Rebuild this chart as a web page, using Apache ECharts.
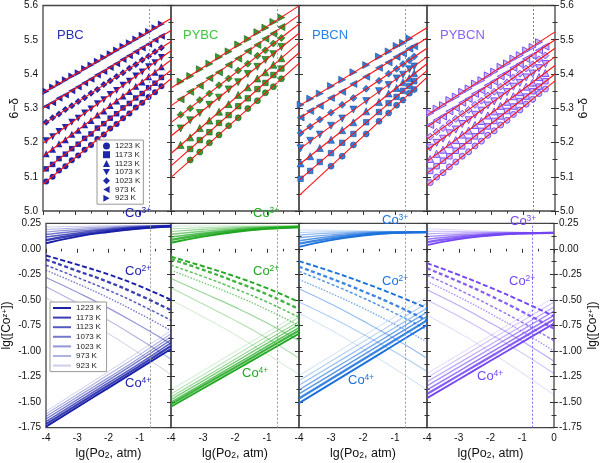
<!DOCTYPE html>
<html><head><meta charset="utf-8">
<script src="https://cdn.jsdelivr.net/npm/echarts@6/dist/echarts.min.js"></script>
<style>html,body{margin:0;padding:0;background:#fff}#c{width:600px;height:463px}</style>
</head><body><div id="c"></div>
<script>
// ---------------- data ----------------
const temps = ['1223 K','1173 K','1123 K','1073 K','1023 K','973 K','923 K'];
const panels = ['PBC','PYBC','PBCN','PYBCN'];
const airLg = -0.68;               // lg(0.21) reference line
const xTicks = [-4,-3,-2,-1,0];
const yTopTicks = [5.0,5.1,5.2,5.3,5.4,5.5,5.6];
const yBotTicks = [-1.75,-1.5,-1.25,-1,-0.75,-0.5,-0.25,0,0.25];
const fitX = [-4, 0];
const curveX = [-4,-3,-2,-1,0];

// top row: measured 6-delta (rows: 1223 K ... 923 K)
const mkX_PBC = [-3.9,-3.7,-3.5,-3.3,-3.1,-2.9,-2.7,-2.5,-2.3,-2.1,-1.9,-1.7,-1.5,-1.3,-1.1,-0.9,-0.7,-0.5,-0.3];
const mkY_PBC = [
 [5.086,5.100,5.118,5.131,5.148,5.162,5.179,5.193,5.210,5.223,5.241,5.254,5.271,5.285,5.302,5.316,5.333,5.347,5.364],
 [5.123,5.136,5.153,5.166,5.182,5.195,5.212,5.225,5.242,5.255,5.271,5.284,5.301,5.314,5.330,5.343,5.360,5.373,5.390],
 [5.167,5.180,5.196,5.208,5.224,5.236,5.252,5.264,5.280,5.292,5.308,5.321,5.336,5.349,5.364,5.377,5.392,5.405,5.421],
 [5.205,5.217,5.232,5.244,5.259,5.271,5.286,5.298,5.313,5.325,5.340,5.352,5.367,5.379,5.394,5.406,5.421,5.433,5.448],
 [5.259,5.272,5.283,5.296,5.307,5.320,5.331,5.344,5.355,5.369,5.380,5.393,5.404,5.417,5.428,5.441,5.452,5.465,5.477],
 [5.306,5.316,5.329,5.339,5.351,5.362,5.374,5.385,5.397,5.407,5.419,5.430,5.442,5.453,5.465,5.476,5.487,5.499,5.510],
 [5.350,5.362,5.372,5.383,5.394,5.404,5.416,5.426,5.437,5.448,5.459,5.470,5.481,5.491,5.502,5.513,5.524,5.535,5.546]
];
const mkX_PYBC = [-3.7,-3.4,-3.1,-2.8,-2.5,-2.2,-1.9,-1.6,-1.3,-1.05,-0.8,-0.55];
const mkY_PYBC = [
 [null,5.149,5.172,5.199,5.222,5.249,5.272,5.299,5.322,5.345,5.363,5.386],
 [null,5.181,5.207,5.230,5.257,5.280,5.306,5.329,5.356,5.374,5.397,5.416],
 [5.193,5.215,5.242,5.264,5.290,5.312,5.339,5.361,5.387,5.405,5.427,5.446],
 [5.241,5.265,5.286,5.310,5.331,5.355,5.376,5.400,5.421,5.441,5.458,5.479],
 [5.281,5.300,5.324,5.343,5.367,5.387,5.410,5.430,5.453,5.469,5.489,5.505],
 [5.326,5.348,5.366,5.388,5.405,5.427,5.445,5.467,5.485,5.503,5.518,5.537],
 [5.378,5.394,5.414,5.430,5.450,5.466,5.486,5.502,5.522,5.535,5.552,5.565]
];
const mkX_PBCN = [-3.95,-3.65,-3.35,-3.0,-2.65,-2.3,-1.9,-1.5,-1.2,-0.95,-0.75,-0.55,-0.4];
const mkY_PBCN = [
 [null,null,null,5.131,5.160,5.193,5.225,5.262,5.286,5.309,5.324,5.344,5.355],
 [5.094,5.117,5.143,5.169,5.199,5.225,5.259,5.289,5.315,5.333,5.351,5.365,5.379],
 [5.139,5.160,5.184,5.208,5.236,5.259,5.291,5.318,5.343,5.359,5.376,5.388,5.402],
 [5.183,5.205,5.223,5.249,5.270,5.296,5.321,5.350,5.368,5.387,5.398,5.414,5.422],
 [5.228,5.246,5.267,5.287,5.310,5.330,5.357,5.380,5.401,5.415,5.429,5.440,5.451],
 [5.273,5.292,5.307,5.330,5.348,5.371,5.392,5.418,5.434,5.450,5.460,5.474,5.481],
 [5.310,5.328,5.343,5.365,5.383,5.405,5.426,5.451,5.466,5.482,5.491,5.504,null]
];
const mkX_PYBCN = [-3.9,-3.7,-3.5,-3.3,-3.1,-2.9,-2.7,-2.5,-2.3,-2.1,-1.9,-1.7,-1.5,-1.3,-1.1,-0.9,-0.7,-0.5,-0.3];
const mkY_PYBCN = [
 [5.083,5.099,5.112,5.129,5.143,5.160,5.173,5.190,5.204,5.221,5.234,5.251,5.265,5.282,5.295,5.312,5.326,5.343,5.356],
 [5.117,5.131,5.147,5.160,5.176,5.189,5.205,5.218,5.234,5.247,5.263,5.276,5.292,5.305,5.321,5.334,5.350,5.363,5.379],
 [5.152,5.167,5.179,5.195,5.207,5.223,5.235,5.251,5.263,5.279,5.291,5.307,5.319,5.335,5.347,5.363,5.375,5.391,5.403],
 [5.185,5.199,5.211,5.227,5.238,5.254,5.265,5.281,5.293,5.308,5.320,5.335,5.347,5.363,5.374,5.390,5.401,5.417,5.429],
 [5.217,5.231,5.242,5.257,5.269,5.284,5.295,5.310,5.322,5.337,5.348,5.363,5.375,5.390,5.401,5.416,5.428,5.443,5.454],
 [5.251,5.265,5.276,5.291,5.301,5.316,5.327,5.342,5.352,5.367,5.378,5.393,5.403,5.418,5.429,5.444,5.454,5.469,5.480],
 [5.286,5.299,5.309,5.324,5.334,5.348,5.358,5.372,5.382,5.396,5.407,5.421,5.431,5.445,5.455,5.469,5.479,5.493,null]
];

// fitted lines: value at x=-4 and x=0
const fit_PBC   = [[5.078,5.386],[5.115,5.411],[5.160,5.441],[5.198,5.468],[5.253,5.495],[5.300,5.527],[5.345,5.562]];
const fit_PYBC  = [[5.098,5.431],[5.132,5.462],[5.168,5.491],[5.219,5.519],[5.258,5.546],[5.307,5.572],[5.359,5.599]];
const fit_PBCN  = [[5.045,5.390],[5.090,5.410],[5.135,5.430],[5.180,5.450],[5.225,5.475],[5.270,5.505],[5.307,5.535]];
const fit_PYBCN = [[5.075,5.380],[5.110,5.400],[5.145,5.425],[5.178,5.450],[5.210,5.475],[5.245,5.500],[5.280,5.523]];

// bottom row: lg([Co z+]) at curveX (rows: 1223 K ... 923 K)
const co3_PBC = [[0.055,0.12,0.165,0.198,0.218],[0.085,0.138,0.176,0.204,0.221],[0.115,0.156,0.187,0.210,0.224],[0.140,0.172,0.197,0.215,0.227],[0.165,0.188,0.206,0.220,0.229],[0.190,0.204,0.216,0.225,0.231],[0.213,0.220,0.226,0.230,0.233]];
const co2_PBC = [[-0.065,-0.155,-0.25,-0.365,-0.50],[-0.105,-0.215,-0.325,-0.455,-0.60],[-0.16,-0.28,-0.405,-0.545,-0.70],[-0.21,-0.34,-0.48,-0.635,-0.80],[-0.28,-0.425,-0.58,-0.75,-0.93],[-0.37,-0.53,-0.70,-0.885,-1.08],[-0.48,-0.65,-0.83,-1.025,-1.23]];
const co4_PBC = [[-1.74,-1.55,-1.36,-1.17,-0.98],[-1.715,-1.525,-1.335,-1.145,-0.95],[-1.69,-1.50,-1.31,-1.12,-0.92],[-1.665,-1.475,-1.285,-1.09,-0.89],[-1.64,-1.45,-1.26,-1.065,-0.86],[-1.615,-1.425,-1.23,-1.035,-0.83],[-1.59,-1.395,-1.20,-1.00,-0.80]];

const co3_PYBC = [[0.06,0.12,0.165,0.195,0.212],[0.088,0.138,0.175,0.200,0.215],[0.116,0.155,0.185,0.205,0.218],[0.143,0.172,0.195,0.210,0.220],[0.170,0.19,0.205,0.215,0.222],[0.197,0.207,0.215,0.220,0.224],[0.222,0.224,0.225,0.225,0.226]];
const co2_PYBC = [[-0.077,-0.17,-0.27,-0.385,-0.52],[-0.10,-0.205,-0.32,-0.445,-0.59],[-0.16,-0.27,-0.39,-0.52,-0.67],[-0.21,-0.33,-0.455,-0.595,-0.75],[-0.29,-0.43,-0.57,-0.725,-0.90],[-0.38,-0.54,-0.70,-0.875,-1.07],[-0.50,-0.665,-0.84,-1.03,-1.23]];
const co4_PYBC = [[-1.545,-1.366,-1.188,-1.009,-0.83],[-1.52,-1.34,-1.16,-0.98,-0.80],[-1.50,-1.318,-1.135,-0.953,-0.77],[-1.475,-1.291,-1.108,-0.924,-0.74],[-1.45,-1.265,-1.08,-0.895,-0.71],[-1.42,-1.233,-1.045,-0.858,-0.67],[-1.38,-1.193,-1.005,-0.818,-0.63]];

const co3_PBCN = [[0.02,0.085,0.13,0.155,0.163],[0.05,0.103,0.14,0.158,0.164],[0.08,0.12,0.148,0.161,0.165],[0.108,0.137,0.156,0.164,0.166],[0.135,0.153,0.163,0.166,0.166],[0.16,0.168,0.17,0.168,0.166],[0.185,0.182,0.177,0.171,0.166]];
const co2_PBCN = [[-0.12,-0.22,-0.33,-0.45,-0.58],[-0.175,-0.29,-0.415,-0.55,-0.70],[-0.22,-0.345,-0.48,-0.63,-0.79],[-0.30,-0.435,-0.58,-0.74,-0.91],[-0.39,-0.54,-0.705,-0.88,-1.07],[-0.52,-0.67,-0.835,-1.01,-1.20],[-0.63,-0.795,-0.98,-1.175,-1.38]];
const co4_PBCN = [[-1.51,-1.319,-1.128,-0.936,-0.745],[-1.465,-1.274,-1.083,-0.891,-0.70],[-1.42,-1.23,-1.04,-0.85,-0.66],[-1.38,-1.19,-1.00,-0.81,-0.62],[-1.335,-1.146,-0.958,-0.769,-0.58],[-1.29,-1.10,-0.91,-0.72,-0.53],[-1.24,-1.048,-0.855,-0.663,-0.47]];

const co3_PYBCN = [[0.037,0.095,0.13,0.15,0.157],[0.065,0.11,0.137,0.152,0.157],[0.093,0.125,0.144,0.154,0.157],[0.12,0.14,0.151,0.156,0.157],[0.147,0.155,0.158,0.158,0.157],[0.173,0.17,0.165,0.16,0.157],[0.198,0.185,0.172,0.163,0.157]];
const co2_PYBCN = [[-0.14,-0.255,-0.38,-0.515,-0.66],[-0.19,-0.32,-0.46,-0.615,-0.78],[-0.256,-0.40,-0.555,-0.72,-0.90],[-0.32,-0.47,-0.635,-0.81,-1.00],[-0.40,-0.555,-0.725,-0.905,-1.10],[-0.50,-0.66,-0.835,-1.02,-1.22],[-0.65,-0.82,-1.01,-1.215,-1.43]];
const co4_PYBCN = [[-1.46,-1.278,-1.095,-0.913,-0.73],[-1.42,-1.238,-1.055,-0.873,-0.69],[-1.38,-1.198,-1.015,-0.833,-0.65],[-1.34,-1.158,-0.975,-0.793,-0.61],[-1.30,-1.118,-0.935,-0.753,-0.57],[-1.26,-1.075,-0.89,-0.705,-0.52],[-1.22,-1.034,-0.848,-0.661,-0.475]];

// ---------------- styling ----------------
const mkX = [mkX_PBC, mkX_PYBC, mkX_PBCN, mkX_PYBCN];
const mkY = [mkY_PBC, mkY_PYBC, mkY_PBCN, mkY_PYBCN];
const fits = [fit_PBC, fit_PYBC, fit_PBCN, fit_PYBCN];
const co3 = [co3_PBC, co3_PYBC, co3_PBCN, co3_PYBCN];
const co2 = [co2_PBC, co2_PYBC, co2_PBCN, co2_PYBCN];
const co4 = [co4_PBC, co4_PYBC, co4_PBCN, co4_PYBCN];

const lineColor = ['#1a1fa8','#22a822','#1c72dc','#7447f2'];
const titleColor = ['#2a2fb0','#3fc93f','#2a82e6','#8a62f5'];
const mkFill = ['#1f27a8','#2f9f2f','#2f7fdd','#c9b9ff'];
const mkBorder = ['#1f27a8','#145a14','#1d4c9a','#7a52f2'];
const syms = ['circle','rect','triangle','path://M0,0 L10,0 L5,9 Z','diamond','path://M9,0 L9,10 L0,5 Z','path://M0,0 L0,10 L9,5 Z'];
const symSize = [6,5.5,7,7,7,7,7];
const opac = [1,0.86,0.74,0.6,0.47,0.35,0.22];
const widths = [1.9,2.3,1.5,1.4,1.2,1.1,1.0];
const co2Type = [[5,2.5],[4,2.5],[3,2],[1.5,1.5],'solid','solid','solid'];

const colLeft = [43,171,299,427];
const colW = 128;
const topT = 5.5, topH = 205.5, botT = 223.3, botH = 204.4;
const FONT = 'Liberation Sans, Arial, sans-serif';

const grid = [], xAxis = [], yAxis = [], series = [];
for (let r = 0; r < 2; r++) for (let c = 0; c < 4; c++) {
  grid.push({left: colLeft[c], width: colW, top: r ? botT : topT, height: r ? botH : topH,
    show: true, borderColor: '#444', borderWidth: 1.3, backgroundColor: 'transparent'});
}
for (let i = 0; i < 8; i++) {
  const r = i < 4 ? 0 : 1, c = i % 4;
  xAxis.push({gridIndex: i, type: 'value', min: xTicks[0], max: xTicks[xTicks.length-1], interval: 1,
    axisLine: {show: false}, splitLine: {show: false},
    axisTick: {show: true, length: 4, lineStyle: {color: '#333'}},
    minorTick: {show: true, splitNumber: 2, length: 2.5, lineStyle: {color: '#333'}},
    axisLabel: {show: r === 1, fontSize: 10, color: '#111', margin: 6, fontFamily: FONT,
      formatter: v => (v === 0 && c < 3) ? '' : String(v)},
    name: r === 1 ? '{a|lg(Po}{b|2}{a|, atm)}' : '', nameLocation: 'middle', nameGap: 19,
    nameTextStyle: {rich: {a: {fontSize: 12.5, color: '#111', fontFamily: FONT}, b: {fontSize: 8.5, color: '#111', verticalAlign: 'bottom', fontFamily: FONT}}}
  });
}
function yAx(i, side) {
  const r = i < 4 ? 0 : 1, c = i % 4;
  const showLab = (side === 'left' && c === 0) || (side === 'right' && c === 3);
  const t = r ? yBotTicks : yTopTicks;
  return {gridIndex: i, type: 'value', position: side, min: t[0], max: t[t.length-1],
    interval: r ? 0.25 : 0.1,
    axisLine: {show: false}, splitLine: {show: false},
    axisTick: {show: true, length: 4, lineStyle: {color: '#333'}},
    minorTick: {show: true, splitNumber: 2, length: 2.5, lineStyle: {color: '#333'}},
    axisLabel: {show: showLab, fontSize: 10, color: '#111', margin: 5, fontFamily: FONT,
      formatter: v => r ? v.toFixed(2) : v.toFixed(1)},
    name: showLab ? (r ? '{a|lg([Co}{s|z+}{a|])}' : '{a|6−δ}') : '',
    nameLocation: 'middle', nameRotate: 90, nameGap: r ? 33 : 21,
    nameTextStyle: {rich: {a: {fontSize: 12, color: '#111', fontFamily: FONT}, s: {fontSize: 8, color: '#111', verticalAlign: 'top', fontFamily: FONT}}}
  };
}
for (let i = 0; i < 8; i++) yAxis.push(yAx(i, 'left'));
for (let i = 0; i < 8; i++) yAxis.push(yAx(i, 'right'));

const vline = (p) => ({silent: true, symbol: 'none', label: {show: false},
  lineStyle: {type: [2, 2], color: p === 3 ? '#6f6fff' : '#9a9a9a', width: 1},
  data: [{xAxis: airLg}]});

for (let p = 0; p < 4; p++) {
  for (let t = 0; t < 7; t++) {
    series.push({name: temps[t], type: 'scatter', xAxisIndex: p, yAxisIndex: p,
      symbol: syms[t], symbolSize: symSize[t], z: 2,
      itemStyle: {color: mkFill[p], borderColor: mkBorder[p], borderWidth: p === 0 ? 0 : (p === 3 ? 1 : 0.6), opacity: 1},
      data: mkX[p].map((x, k) => [x, mkY[p][t][k]]).filter(d => d[1] !== null)});
  }
  for (let t = 0; t < 7; t++) {
    const s = {name: 'fit', type: 'line', xAxisIndex: p, yAxisIndex: p, symbol: 'none', z: 3, silent: true,
      lineStyle: {color: '#ff1010', width: 1.1}, data: fitX.map((x, k) => [x, fits[p][t][k]])};
    if (t === 0) s.markLine = vline(p);
    series.push(s);
  }
  const groups = [co3[p], co2[p], co4[p]];
  groups.forEach((g, gi) => {
    for (let t = 0; t < 7; t++) {
      const s = {name: temps[t] + ' ', type: 'line', xAxisIndex: p + 4, yAxisIndex: p + 4, symbol: 'none',
        smooth: true, silent: true, z: 2,
        itemStyle: {color: lineColor[p], opacity: opac[t]},
        lineStyle: {color: lineColor[p], width: widths[t], opacity: opac[t], type: gi === 1 ? co2Type[t] : 'solid'},
        data: curveX.map((x, k) => [x, g[t][k]])};
      if (gi === 0 && t === 0) s.markLine = vline(p);
      series.push(s);
    }
  });
}

const titles = panels.map((n, p) => ({text: n, left: [52,178,307,435][p], top: 24,
  textStyle: {fontSize: 13, fontWeight: 'normal', color: titleColor[p], fontFamily: FONT}}));

const coLab = [
  [[125,206],[125,264],[125,376]],
  [[253,206],[253,264],[242,366]],
  [[382,213],[382,274],[348,373]],
  [[510,214],[509,274],[477,369]]
];
const ions = ['3+','2+','4+'];
const graphic = [];
for (let p = 0; p < 4; p++) for (let k = 0; k < 3; k++) {
  graphic.push({type: 'text', left: coLab[p][k][0], top: coLab[p][k][1], z: 100,
    style: {text: '{a|Co}{s|' + ions[k] + '}', rich: {
      a: {fontSize: 13, fill: lineColor[p], fontFamily: FONT, lineHeight: 15},
      s: {fontSize: 8.5, fill: lineColor[p], fontFamily: FONT, verticalAlign: 'top', lineHeight: 15}}}});
}

const chart = echarts.init(document.getElementById('c'), null, {renderer: 'canvas'});
chart.setOption({
  animation: false,
  textStyle: {fontFamily: FONT},
  title: titles,
  grid, xAxis, yAxis, series, graphic,
  legend: [
    {data: temps, left: 97, top: 140, orient: 'vertical', itemWidth: 7, itemHeight: 7, itemGap: 0.7,
     selectedMode: false, backgroundColor: '#fff', borderColor: '#999', borderWidth: 1, borderRadius: 0,
     padding: [2, 3, 2, 6], textStyle: {fontSize: 8, lineHeight: 8, color: '#222', fontFamily: FONT}},
    {data: temps.map(t => t + ' '), left: 50, top: 302, orient: 'vertical', itemWidth: 18, itemHeight: 8, itemGap: 1.6,
     itemStyle: {opacity: 0},
     selectedMode: false, backgroundColor: '#fff', borderColor: '#999', borderWidth: 1, borderRadius: 0,
     padding: [2, 3, 2, 2], textStyle: {fontSize: 8, lineHeight: 8, color: '#222', fontFamily: FONT}}
  ]
});
</script></body></html>
